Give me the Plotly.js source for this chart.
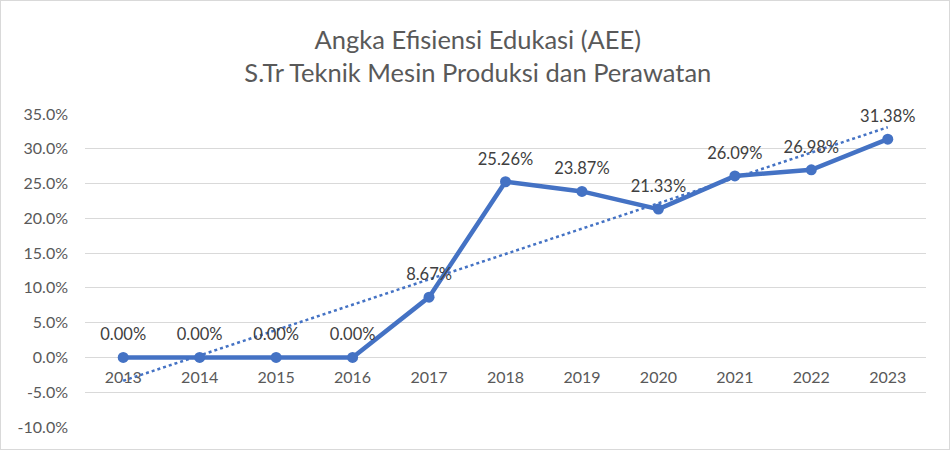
<!DOCTYPE html>
<html>
<head>
<meta charset="utf-8">
<script src="https://cdn.plot.ly/plotly-3.0.1.min.js"></script>
<style>
html,body{margin:0;padding:0;background:#fff;}
#chart{width:948px;height:448px;border:1px solid #d9d9d9;}
</style>
</head>
<body>
<div id="chart"></div>
<script>
const years = ["2013","2014","2015","2016","2017","2018","2019","2020","2021","2022","2023"];
const aee = [0, 0, 0, 0, 8.67, 25.26, 23.87, 21.33, 26.09, 26.98, 31.38];
const yTicks = [-10, -5, 0, 5, 10, 15, 20, 25, 30, 35];

// linear trendline (least squares) over the category index
const n = aee.length;
const idx = aee.map((_, i) => i);
const mx = idx.reduce((a, b) => a + b, 0) / n;
const my = aee.reduce((a, b) => a + b, 0) / n;
let sxy = 0, sxx = 0;
idx.forEach((x, i) => { sxy += (x - mx) * (aee[i] - my); sxx += (x - mx) * (x - mx); });
const slope = sxy / sxx, icpt = my - slope * mx;
const trend = idx.map(x => icpt + slope * x);

const blue = "#4472C4";
const fam = "Lato, 'Open Sans', sans-serif";
const traces = [
  {
    x: years, y: trend, type: "scatter", mode: "lines",
    line: {color: blue, width: 2.5, dash: "dot"}, hoverinfo: "skip"
  },
  {
    x: years, y: aee, type: "scatter", mode: "lines+markers",
    line: {color: blue, width: 4.5},
    marker: {color: blue, size: 11}
  },
  {
    x: years, y: aee, type: "scatter", mode: "markers+text",
    text: aee.map(v => v.toFixed(2) + "%"),
    textposition: "top center", cliponaxis: false,
    textfont: {family: fam, size: 16.5, color: "#404040"},
    marker: {size: 19, color: "rgba(0,0,0,0)"}
  }
];

const layout = {
  width: 948, height: 448,
  margin: {l: 84, r: 23, t: 113, b: 22},
  paper_bgcolor: "#fff", plot_bgcolor: "#fff",
  showlegend: false,
  title: {
    text: "Angka Efisiensi Edukasi (AEE)<br>S.Tr Teknik Mesin Produksi dan Perawatan",
    x: 0.503, xanchor: "center", y: 0.893, yanchor: "middle",
    font: {family: fam, size: 25.5, color: "#595959"}
  },
  xaxis: {
    type: "category", range: [-0.5, 10.5],
    anchor: "free", position: 10 / 45,
    showgrid: false, showline: false, ticks: "",
    ticklabelstandoff: 9,
    tickfont: {family: fam, size: 16, color: "#595959"},
    fixedrange: true
  },
  yaxis: {
    range: [-10, 35], tickvals: yTicks,
    ticktext: yTicks.map(v => v.toFixed(1) + "%"),
    showgrid: true, gridcolor: "#d9d9d9", gridwidth: 1,
    zeroline: false, showline: false, ticks: "",
    ticklabelstandoff: 16,
    tickfont: {family: fam, size: 16, color: "#595959"},
    fixedrange: true
  }
};

Plotly.newPlot("chart", traces, layout, {displayModeBar: false, staticPlot: true});
</script>
</body>
</html>
